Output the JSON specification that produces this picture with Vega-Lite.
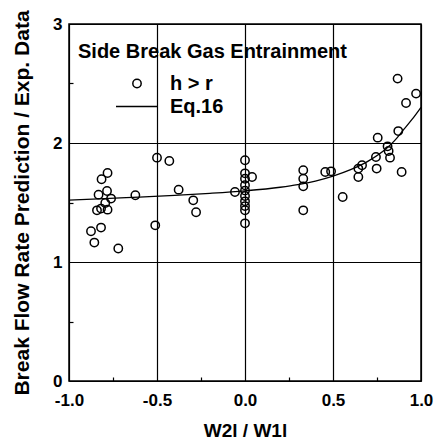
{
  "$schema": "https://vega.github.io/schema/vega-lite/v6.json",
  "width": 352,
  "height": 357,
  "autosize": {"type": "none"},
  "padding": {"left": 69, "top": 24, "right": 18, "bottom": 67},
  "background": "white",
  "config": {
    "font": "Liberation Sans",
    "view": {"stroke": "black", "strokeWidth": 1.5},
    "axis": {
      "domain": false,
      "gridColor": "black",
      "gridWidth": 1.2,
      "tickColor": "black",
      "tickWidth": 1.2,
      "labelColor": "black",
      "titleColor": "black",
      "labelFont": "Liberation Sans",
      "labelFontWeight": "bold",
      "labelFontSize": 17,
      "titleFont": "Liberation Sans",
      "titleFontWeight": "bold",
      "titleFontSize": 19
    }
  },
  "layer": [
    {
      "data": {
        "values": [
          {"x": -0.875, "y": 1.258}, {"x": -0.856, "y": 1.163}, {"x": -0.818, "y": 1.289},
          {"x": -0.841, "y": 1.434}, {"x": -0.818, "y": 1.449}, {"x": -0.832, "y": 1.566},
          {"x": -0.794, "y": 1.496}, {"x": -0.781, "y": 1.440}, {"x": -0.784, "y": 1.597},
          {"x": -0.761, "y": 1.533}, {"x": -0.815, "y": 1.695}, {"x": -0.781, "y": 1.748},
          {"x": -0.720, "y": 1.113}, {"x": -0.623, "y": 1.561},
          {"x": -0.500, "y": 1.877}, {"x": -0.430, "y": 1.849}, {"x": -0.510, "y": 1.308},
          {"x": -0.377, "y": 1.608}, {"x": -0.294, "y": 1.518}, {"x": -0.278, "y": 1.418},
          {"x": -0.057, "y": 1.588},
          {"x": 0.0, "y": 1.855}, {"x": 0.0, "y": 1.745}, {"x": 0.0, "y": 1.700},
          {"x": 0.0, "y": 1.645}, {"x": 0.0, "y": 1.600}, {"x": 0.0, "y": 1.555},
          {"x": 0.0, "y": 1.510}, {"x": 0.0, "y": 1.470}, {"x": 0.0, "y": 1.435},
          {"x": 0.0, "y": 1.325}, {"x": 0.040, "y": 1.714},
          {"x": 0.331, "y": 1.771}, {"x": 0.331, "y": 1.700}, {"x": 0.331, "y": 1.636},
          {"x": 0.331, "y": 1.434},
          {"x": 0.456, "y": 1.756}, {"x": 0.489, "y": 1.762}, {"x": 0.555, "y": 1.546},
          {"x": 0.644, "y": 1.785}, {"x": 0.644, "y": 1.714}, {"x": 0.665, "y": 1.813},
          {"x": 0.744, "y": 1.882}, {"x": 0.748, "y": 1.785}, {"x": 0.754, "y": 2.045},
          {"x": 0.810, "y": 1.972}, {"x": 0.816, "y": 1.933}, {"x": 0.824, "y": 1.877},
          {"x": 0.890, "y": 1.756}, {"x": 0.871, "y": 2.100}, {"x": 0.867, "y": 2.541},
          {"x": 0.915, "y": 2.336}, {"x": 0.972, "y": 2.415}
        ]
      },
      "mark": {"type": "point", "filled": false, "stroke": "black", "strokeWidth": 1.5, "opacity": 1},
      "encoding": {
        "x": {
          "field": "x", "type": "quantitative",
          "scale": {"domain": [-1, 1], "nice": false},
          "axis": {
            "title": "W2l / W1l",
            "values": [-1, -0.75, -0.5, -0.25, 0, 0.25, 0.5, 0.75, 1],
            "labelExpr": "(datum.value * 2) % 1 == 0 ? (datum.value < 0 ? '-' : '') + format(abs(datum.value), '.1f') : ''",
            "labelPadding": 11,
            "labelFlush": false,
            "gridOpacity": {"condition": {"test": "(datum.value * 2) % 1 == 0", "value": 1}, "value": 0},
            "tickSize": {"condition": {"test": "(datum.value * 2) % 1 == 0", "value": 0}, "value": -4},
            "titlePadding": 13
          }
        },
        "y": {
          "field": "y", "type": "quantitative",
          "scale": {"domain": [0, 3], "nice": false},
          "axis": {
            "title": "Break Flow Rate Prediction / Exp. Data",
            "titleFontSize": 21,
            "values": [0, 0.5, 1, 1.5, 2, 2.5, 3],
            "labelExpr": "datum.value % 1 == 0 ? format(datum.value, 'd') : ''",
            "labelPadding": 7,
            "labelFlush": false,
            "gridOpacity": {"condition": {"test": "datum.value % 1 == 0", "value": 1}, "value": 0},
            "tickSize": {"condition": {"test": "datum.value % 1 == 0", "value": 0}, "value": -4},
            "titlePadding": 20
          }
        },
        "shape": {
          "datum": "h > r",
          "scale": {"domain": ["h > r", "Eq.16"], "range": ["circle", "stroke"]},
          "legend": {
            "title": "Side Break Gas Entrainment",
            "orient": "none",
            "legendX": 9,
            "legendY": 18,
            "padding": 0,
            "titleFont": "Liberation Sans",
            "titleFontWeight": "bold",
            "titleFontSize": 20,
            "titleLimit": 400,
            "titleColor": "black",
            "titlePadding": 10,
            "labelFont": "Liberation Sans",
            "labelFontWeight": "bold",
            "labelFontSize": 20,
            "labelColor": "black",
            "labelOffset": 11,
            "symbolOffset": 37,
            "symbolStrokeColor": "black",
            "symbolStrokeWidth": 1.5,
            "symbolFillColor": "white",
            "clipHeight": 23,
            "rowPadding": 0
          }
        },
        "size": {
          "datum": "h > r",
          "scale": {"domain": ["h > r", "Eq.16"], "range": [70, 1764]}
        }
      }
    },
    {
      "data": {
        "values": [
          {"x": -1.0, "y": 1.520}, {"x": -0.8, "y": 1.532}, {"x": -0.6, "y": 1.546},
          {"x": -0.4, "y": 1.560}, {"x": -0.2, "y": 1.577}, {"x": 0.0, "y": 1.598},
          {"x": 0.2, "y": 1.628}, {"x": 0.3, "y": 1.650}, {"x": 0.4, "y": 1.680},
          {"x": 0.5, "y": 1.722}, {"x": 0.6, "y": 1.776}, {"x": 0.7, "y": 1.848},
          {"x": 0.8, "y": 1.950}, {"x": 0.85, "y": 2.020}, {"x": 0.9, "y": 2.110},
          {"x": 0.95, "y": 2.200}, {"x": 1.0, "y": 2.300}
        ]
      },
      "mark": {"type": "line", "stroke": "black", "strokeWidth": 1.3, "interpolate": "monotone"},
      "encoding": {
        "x": {"field": "x", "type": "quantitative"},
        "y": {"field": "y", "type": "quantitative"}
      }
    }
  ]
}
